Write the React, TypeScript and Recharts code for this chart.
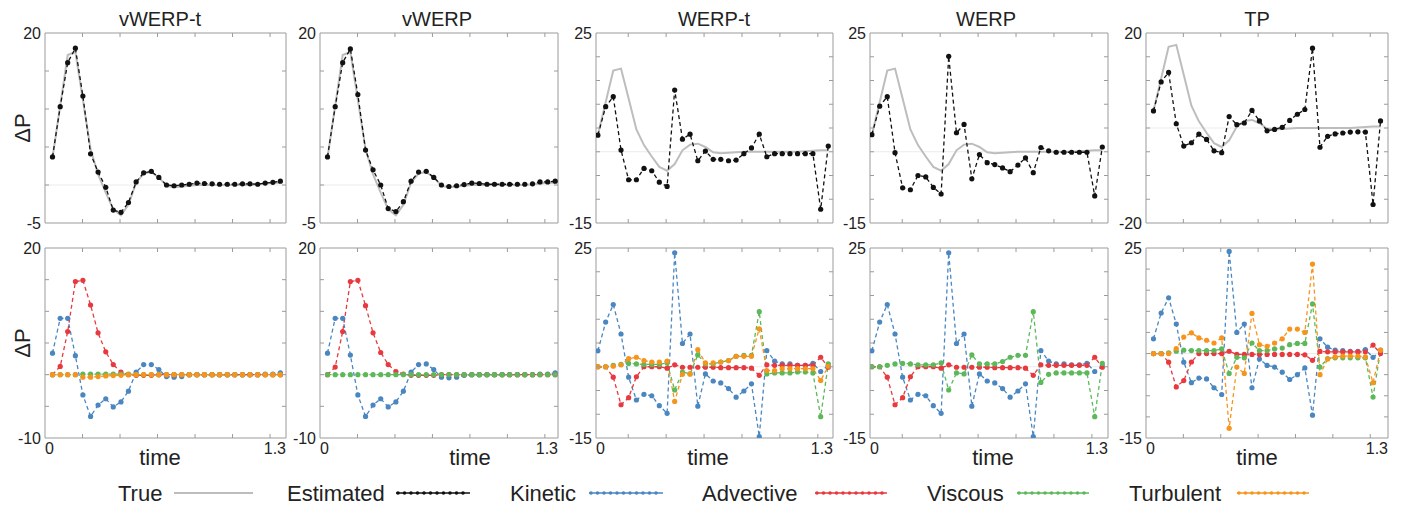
import React from 'react';
import { LineChart, Line, XAxis, YAxis, ReferenceLine } from 'recharts';

// sample times (shared by every panel)
const time = [
  0.040, 0.081, 0.121, 0.162, 0.202, 0.243, 0.283, 0.324, 0.364, 0.405, 0.445,
  0.486, 0.526, 0.567, 0.607, 0.648, 0.688, 0.729, 0.769, 0.810, 0.850, 0.891,
  0.931, 0.972, 1.012, 1.053, 1.093, 1.134, 1.174, 1.215, 1.255,
];

const trueP = [3.6, 10.4, 17.1, 17.5, 11.2, 4.7, 1.4, -1.0, -3.2, -4.0, -2.6, 0.3, 1.5, 1.7, 1.0, -0.1, -0.3, -0.2, -0.1, 0, 0, 0, 0, 0, 0, 0, 0, 0.1, 0.2, 0.3, 0.3];

// estimated pressure, top row
const estVWERPt = [3.7, 10.3, 16.1, 18.0, 11.7, 4.1, 1.7, -0.3, -3.3, -3.6, -2.3, 0.4, 1.6, 1.8, 1.0, 0, -0.1, 0, 0.1, 0.25, 0.2, 0.15, 0.1, 0.1, 0.1, 0.15, 0.15, 0.1, 0.25, 0.35, 0.5];
const estVWERP = [3.7, 10.3, 16.1, 17.9, 11.9, 4.6, 2.0, 0, -3.1, -3.5, -2.2, 0.5, 1.7, 1.8, 1.0, 0, -0.2, -0.1, 0.05, 0.25, 0.2, 0.1, 0.1, 0.1, 0.1, 0.1, 0.1, 0.15, 0.4, 0.4, 0.5];
const estWERPt = [3.5, 9.5, 11.6, 0.35, -5.9, -5.9, -3.5, -4.0, -6.4, -7.3, 13.0, 2.65, 3.7, -1.9, 0.15, -1.6, -1.6, -1.9, -1.75, -0.4, 0.8, 3.7, -1.05, -0.4, -0.4, -0.4, -0.4, -0.4, -0.4, -12.1, 1.2];
const estWERP = [3.6, 9.6, 11.6, -0.2, -7.6, -8.0, -5.0, -5.3, -7.5, -8.9, 20.1, 4.0, 5.75, -5.7, -0.6, -2.3, -2.7, -3.4, -4.2, -2.8, -1.3, -4.4, 0.9, 0.2, -0.1, -0.1, -0.1, -0.1, -0.1, -9.3, 1.0];
const estTP = [3.6, 9.7, 11.7, 0.9, -3.8, -3.1, -1.3, -2.4, -4.8, -5.2, 2.4, 0.7, 1.05, 3.7, 1.5, -0.6, -0.3, 0.15, 1.6, 2.9, 3.9, 16.8, -4.05, -1.75, -1.25, -1.05, -0.85, -0.8, -0.85, -16.1, 1.5];

// components, bottom row
const kinVWERPt = [3.4, 8.9, 8.9, 3.0, -3.2, -6.6, -4.8, -3.8, -5.1, -4.3, -2.6, 0.4, 1.6, 1.6, 0.8, -0.3, -0.4, -0.3, 0, 0, 0, 0, 0, 0, 0, 0, 0, 0, 0.1, 0.1, 0.3];
const advVWERPt = [0, 1.3, 6.8, 14.7, 14.9, 11.0, 6.6, 3.6, 1.6, 0.4, 0, -0.1, -0.1, -0.1, 0, 0, 0, 0, 0, 0, 0, 0, 0, 0, 0, 0, 0, 0, 0, 0, 0];
const visVWERPt = [0, 0, 0, 0, 0.1, 0.1, 0.1, 0.1, 0.1, 0.1, 0.1, 0, 0, 0, 0, 0, 0, 0, 0, 0, 0, 0, 0, 0, 0, 0, 0, 0, 0, 0, 0];
const turVWERPt = [0, 0, 0, 0, -0.4, -0.4, -0.3, -0.2, -0.15, -0.1, 0, 0, 0, 0, 0, 0, 0, 0, 0, 0, 0, 0, 0, 0, 0, 0, 0, 0, 0, 0, 0];

const kinVWERP = [3.4, 8.9, 8.9, 3.1, -3.2, -6.6, -4.8, -3.8, -5.1, -4.3, -2.6, 0.4, 1.6, 1.7, 0.8, -0.4, -0.5, -0.4, -0.1, 0, 0, 0, 0, 0, 0, 0, 0, 0, 0.1, 0.1, 0.3];
const advVWERP = [0, 1.2, 6.8, 14.7, 14.9, 10.9, 6.6, 3.5, 1.6, 0.5, 0.1, -0.1, -0.1, -0.1, -0.1, 0, 0, 0, 0, 0, 0, 0, 0, 0, 0, 0, 0, 0, 0, 0, 0];
const visVWERP = [0, 0, 0, 0, 0, 0, 0, 0, 0, 0, 0, 0, 0, 0, 0, 0, 0, 0, 0, 0, 0, 0, 0, 0, 0, 0, 0, 0, 0, 0, 0];

const kinWERPt = [3.35, 9.4, 13.1, 6.9, -2.2, -7.0, -5.8, -6.1, -8.2, -9.8, 24.0, 4.9, 6.9, -8.3, -1.5, -3.0, -3.4, -4.6, -6.4, -5.1, -3.6, -14.7, 3.4, 1.2, 0.6, 0.6, 0.3, 0.3, 0.7, -1.0, 0.3];
const advWERPt = [0, 0, -2.2, -8.0, -6.5, -2.1, 0, 0, 0, -0.3, 0.4, -0.1, -0.1, -0.1, -0.1, -0.1, -0.2, -0.2, -0.2, -0.2, -0.3, -1.8, 0.4, 0.3, 0.3, 0.3, 0.3, 0.3, 0.3, 2.0, -0.1];
const visWERPt = [0, 0, 0.3, 0.5, 0.7, 0.6, 0.5, 0.5, 0.5, 0.8, -4.9, -1.1, -1.5, 2.5, 0.6, 0.6, 1.0, 1.3, 2.2, 2.4, 2.4, 11.6, -1.5, -1.3, -1.3, -1.3, -1.1, -1.1, -1.3, -10.5, 0.6];
const turWERPt = [0, 0, 0.1, 0.4, 1.7, 2.0, 1.3, 1.0, 1.0, 1.2, -7.3, -1.6, -1.5, 3.6, 0.8, 0.8, 1.0, 1.3, 2.2, 2.2, 2.2, 8.0, -0.8, -0.8, -0.4, -0.4, -0.4, -0.4, -0.4, -2.9, 0.1];

const kinWERP = [3.35, 9.4, 13.1, 6.9, -2.2, -7.0, -5.8, -6.1, -8.2, -9.8, 24.0, 4.9, 6.9, -8.3, -1.5, -3.0, -3.4, -4.6, -6.4, -5.1, -3.6, -14.7, 3.4, 1.2, 0.6, 0.6, 0.4, 0.4, 0.7, -1.0, 0.1];
const advWERP = [0, 0, -2.2, -8.0, -6.5, -2.1, 0, 0, 0, -0.3, 0.4, -0.1, -0.1, -0.1, -0.1, -0.1, -0.2, -0.2, -0.2, -0.2, -0.3, -1.8, 0.4, 0.3, 0.3, 0.3, 0.3, 0.3, 0.3, 2.0, -0.1];
const visWERP = [0, 0, 0.3, 0.6, 0.7, 0.6, 0.4, 0.4, 0.4, 0.8, -4.9, -1.3, -1.5, 2.5, 0.6, 0.6, 0.6, 1.1, 2.0, 2.4, 2.4, 11.6, -3.3, -1.6, -1.3, -1.3, -1.3, -1.3, -1.3, -10.5, 0.7];

const kinTP = [3.5, 9.6, 13.2, 7.0, -2.05, -6.9, -5.8, -6.0, -8.1, -9.7, 24.2, 5.0, 7.0, -8.1, -1.3, -2.8, -3.2, -4.4, -6.15, -5.0, -3.4, -14.6, 3.5, 1.5, 0.8, 0.7, 0.55, 0.5, 0.95, -0.9, 0.55];
const advTP = [0, 0, -2.05, -7.9, -6.4, -2.0, 0, 0, 0, 0, 0.55, -0.2, -0.2, -0.2, -0.2, -0.2, -0.2, -0.2, -0.2, -0.2, -0.3, -1.6, 0.5, 0.4, 0.4, 0.4, 0.4, 0.4, 0.4, 2.0, 0];
const visTP = [0, 0, 0.15, 0.55, 0.8, 0.7, 0.7, 0.7, 0.7, 1.1, -4.7, -0.9, -1.0, 2.5, 0.7, 0.7, 1.1, 1.3, 2.1, 2.4, 2.4, 11.75, -3.2, -1.2, -1.0, -1.0, -1.0, -1.0, -1.0, -10.3, 0.8];
const turTP = [0, 0, 0, 1.2, 3.9, 4.9, 3.7, 3.15, 2.5, 3.7, -17.7, -3.2, -4.7, 9.5, 2.1, 1.7, 2.5, 3.5, 5.8, 5.8, 5.0, 21.2, -5.0, -1.3, -0.8, -0.6, -0.6, -0.6, -0.8, -6.9, 0.8];

const titles = ['vWERP-t', 'vWERP', 'WERP-t', 'WERP', 'TP'];
const topYLabels = [['20', '-5'], ['20', '-5'], ['25', '-15'], ['25', '-15'], ['20', '-20']];
const bottomYLabels = [['20', '-10'], ['20', '-10'], ['25', '-15'], ['25', '-15'], ['25', '-15']];
const xLabels = ['0', '1.3'];

const COLORS = {
  true: '#bdbdbd',
  est: '#111111',
  kinetic: '#4a86c0',
  advective: '#e8393e',
  viscous: '#5db85a',
  turbulent: '#f7941d',
};
const FONT = '"Liberation Sans", Arial, Helvetica, sans-serif';
const BOX = '#9b9b9b';
const INK = '#222';

// layout of the plot boxes
const TOP_Y = 33;
const BOT_Y = 248;
const BOX_H = 190;
const colLeft = [45, 320, 596, 870, 1146];
const colWidth = [241, 238, 237, 238, 242];
const xDomains: [number, number][] = [[0, 1.285], [0, 1.27], [0.03, 1.28], [0.03, 1.285], [0, 1.295]];
const topYDomains: [number, number][] = [[-5, 20], [-5, 20], [-15, 25], [-15, 25], [-20, 20]];
const bottomYDomains: [number, number][] = [[-10, 20], [-10, 20], [-15, 25], [-15, 25], [-20, 25]];
const titleX = [160, 437, 714, 986, 1257];
const timeX = [160, 470, 708, 993, 1257];

const PAD_L = 42;
const PAD_R = 6;
const PAD_T = 14;
const PAD_B = 24;

type Series = { key: string; color: string; values: number[]; width?: number; dashed?: boolean; dot?: boolean };

const topSeries: Series[][] = [estVWERPt, estVWERP, estWERPt, estWERP, estTP].map((est) => [
  { key: 'trueP', color: COLORS.true, values: trueP, width: 2, dashed: false, dot: false },
  { key: 'est', color: COLORS.est, values: est },
]);

const bottomSeries: Series[][] = [
  [
    { key: 'kinetic', color: COLORS.kinetic, values: kinVWERPt },
    { key: 'advective', color: COLORS.advective, values: advVWERPt },
    { key: 'viscous', color: COLORS.viscous, values: visVWERPt },
    { key: 'turbulent', color: COLORS.turbulent, values: turVWERPt },
  ],
  [
    { key: 'kinetic', color: COLORS.kinetic, values: kinVWERP },
    { key: 'advective', color: COLORS.advective, values: advVWERP },
    { key: 'viscous', color: COLORS.viscous, values: visVWERP },
  ],
  [
    { key: 'kinetic', color: COLORS.kinetic, values: kinWERPt },
    { key: 'advective', color: COLORS.advective, values: advWERPt },
    { key: 'viscous', color: COLORS.viscous, values: visWERPt },
    { key: 'turbulent', color: COLORS.turbulent, values: turWERPt },
  ],
  [
    { key: 'kinetic', color: COLORS.kinetic, values: kinWERP },
    { key: 'advective', color: COLORS.advective, values: advWERP },
    { key: 'viscous', color: COLORS.viscous, values: visWERP },
  ],
  [
    { key: 'kinetic', color: COLORS.kinetic, values: kinTP },
    { key: 'advective', color: COLORS.advective, values: advTP },
    { key: 'viscous', color: COLORS.viscous, values: visTP },
    { key: 'turbulent', color: COLORS.turbulent, values: turTP },
  ],
];

const legendItems = [
  { name: 'True', color: COLORS.true, textX: 118, x1: 174, x2: 253, dots: false },
  { name: 'Estimated', color: COLORS.est, textX: 287, x1: 396, x2: 470, dots: true },
  { name: 'Kinetic', color: COLORS.kinetic, textX: 510, x1: 589, x2: 663, dots: true },
  { name: 'Advective', color: COLORS.advective, textX: 702, x1: 815, x2: 887, dots: true },
  { name: 'Viscous', color: COLORS.viscous, textX: 927, x1: 1017, x2: 1089, dots: true },
  { name: 'Turbulent', color: COLORS.turbulent, textX: 1129, x1: 1237, x2: 1309, dots: true },
];

interface PanelProps {
  left: number;
  top: number;
  width: number;
  xDomain: [number, number];
  yDomain: [number, number];
  yLabels: string[];
  showX: boolean;
  series: Series[];
}

function Panel({ left, top, width, xDomain, yDomain, yLabels, showX, series }: PanelProps) {
  const W = width + PAD_L + PAD_R;
  const H = BOX_H + PAD_T + PAD_B;
  const [xmin, xmax] = xDomain;
  const [ymin, ymax] = yDomain;
  const xTicks = [xmin, 0.2, 0.4, 0.6, 0.8, 1.0, 1.2, xmax];
  const yTicks: number[] = [];
  for (let v = ymin; v <= ymax; v += 5) yTicks.push(v);

  const data = time.map((t, i) => {
    const row: Record<string, number> = { t };
    series.forEach((s) => (row[s.key] = s.values[i]));
    return row;
  });

  const leftTick = (props: any) => {
    const { x, y, payload } = props;
    const v = payload.value;
    if (v === ymax || v === ymin) {
      return (
        <text x={x - 4} y={y} dy="0.36em" textAnchor="end" fontSize={16} fill={INK} fontFamily={FONT}>
          {v === ymax ? yLabels[0] : yLabels[1]}
        </text>
      );
    }
    return <line x1={x} x2={x + 4} y1={y} y2={y} stroke={BOX} />;
  };
  const rightTick = (props: any) => {
    const { x, y, payload } = props;
    if (payload.value === ymax || payload.value === ymin) return <g />;
    return <line x1={x} x2={x - 4} y1={y} y2={y} stroke={BOX} />;
  };
  const bottomTick = (props: any) => {
    const { x, y, payload } = props;
    const v = payload.value;
    if (v === xmin || v === xmax) {
      if (!showX) return <g />;
      return (
        <text x={x} y={y + 16} textAnchor={v === xmin ? 'start' : 'end'} fontSize={16} fill={INK} fontFamily={FONT}>
          {v === xmin ? xLabels[0] : xLabels[1]}
        </text>
      );
    }
    return <line x1={x} x2={x} y1={y} y2={y - 4} stroke={BOX} />;
  };
  const topTick = (props: any) => {
    const { x, y, payload } = props;
    if (payload.value === xmin || payload.value === xmax) return <g />;
    return <line x1={x} x2={x} y1={y} y2={y + 4} stroke={BOX} />;
  };

  return (
    <div style={{ position: 'absolute', left: left - PAD_L, top: top - PAD_T }}>
      <LineChart width={W} height={H} data={data} margin={{ top: 0, right: 0, bottom: 0, left: 0 }}>
        <XAxis
          xAxisId="b"
          dataKey="t"
          type="number"
          domain={xDomain}
          ticks={xTicks}
          interval={0}
          allowDataOverflow
          height={PAD_B}
          tickSize={0}
          tickMargin={0}
          tickLine={false}
          axisLine={{ stroke: BOX }}
          tick={bottomTick}
        />
        <XAxis
          xAxisId="t"
          orientation="top"
          dataKey="t"
          type="number"
          domain={xDomain}
          ticks={xTicks}
          interval={0}
          allowDataOverflow
          height={PAD_T}
          tickSize={0}
          tickMargin={0}
          tickLine={false}
          axisLine={{ stroke: BOX }}
          tick={topTick}
        />
        <YAxis
          yAxisId="l"
          type="number"
          domain={yDomain}
          ticks={yTicks}
          interval={0}
          allowDataOverflow
          width={PAD_L}
          tickSize={0}
          tickMargin={0}
          tickLine={false}
          axisLine={{ stroke: BOX }}
          tick={leftTick}
        />
        <YAxis
          yAxisId="r"
          orientation="right"
          type="number"
          domain={yDomain}
          ticks={yTicks}
          interval={0}
          allowDataOverflow
          width={PAD_R}
          tickSize={0}
          tickMargin={0}
          tickLine={false}
          axisLine={{ stroke: BOX }}
          tick={rightTick}
        />
        <ReferenceLine xAxisId="b" yAxisId="l" y={0} stroke="#ebebeb" strokeWidth={1} />
        {series.map((s) => (
          <Line
            key={s.key}
            xAxisId="b"
            yAxisId="l"
            type="linear"
            dataKey={s.key}
            stroke={s.color}
            strokeWidth={s.width ?? 1.3}
            strokeDasharray={s.dashed === false ? undefined : '4 3'}
            dot={s.dot === false ? false : { r: 2.6, fill: s.color, stroke: s.color, strokeWidth: 0 }}
            activeDot={false}
            isAnimationActive={false}
          />
        ))}
      </LineChart>
    </div>
  );
}

export default function App() {
  return (
    <div
      style={{
        position: 'absolute',
        left: 0,
        top: 0,
        width: 1405,
        height: 511,
        background: '#fff',
        overflow: 'hidden',
        fontFamily: FONT,
      }}
    >
      <svg width={1405} height={511} style={{ position: 'absolute', left: 0, top: 0 }}>
        {titles.map((t, i) => (
          <text key={t} x={titleX[i]} y={26} textAnchor="middle" fontSize={20} fill={INK} fontFamily={FONT}>
            {t}
          </text>
        ))}
        <text
          x={22}
          y={TOP_Y + BOX_H / 2}
          dy="0.36em"
          textAnchor="middle"
          fontSize={22}
          fill={INK}
          fontFamily={FONT}
          transform={`rotate(-90 22 ${TOP_Y + BOX_H / 2})`}
        >
          ΔP
        </text>
        <text
          x={22}
          y={BOT_Y + BOX_H / 2}
          dy="0.36em"
          textAnchor="middle"
          fontSize={22}
          fill={INK}
          fontFamily={FONT}
          transform={`rotate(-90 22 ${BOT_Y + BOX_H / 2})`}
        >
          ΔP
        </text>
        {timeX.map((x, i) => (
          <text key={i} x={x} y={465} textAnchor="middle" fontSize={22} fill={INK} fontFamily={FONT}>
            time
          </text>
        ))}
        {legendItems.map((it) => {
          const cy = 493;
          const dots: number[] = [];
          if (it.dots) for (let x = it.x1 + 2; x <= it.x2 - 1; x += 6.5) dots.push(x);
          return (
            <g key={it.name}>
              <text x={it.textX} y={cy} dy="0.36em" fontSize={22} fill={INK} fontFamily={FONT}>
                {it.name}
              </text>
              <line x1={it.x1} x2={it.x2} y1={cy} y2={cy} stroke={it.color} strokeWidth={it.dots ? 1.6 : 2} />
              {dots.map((x) => (
                <circle key={x} cx={x} cy={cy} r={1.8} fill={it.color} />
              ))}
            </g>
          );
        })}
      </svg>
      {titles.map((t, i) => (
        <Panel
          key={'top-' + t}
          left={colLeft[i]}
          top={TOP_Y}
          width={colWidth[i]}
          xDomain={xDomains[i]}
          yDomain={topYDomains[i]}
          yLabels={topYLabels[i]}
          showX={false}
          series={topSeries[i]}
        />
      ))}
      {titles.map((t, i) => (
        <Panel
          key={'bot-' + t}
          left={colLeft[i]}
          top={BOT_Y}
          width={colWidth[i]}
          xDomain={xDomains[i]}
          yDomain={bottomYDomains[i]}
          yLabels={bottomYLabels[i]}
          showX={true}
          series={bottomSeries[i]}
        />
      ))}
    </div>
  );
}
